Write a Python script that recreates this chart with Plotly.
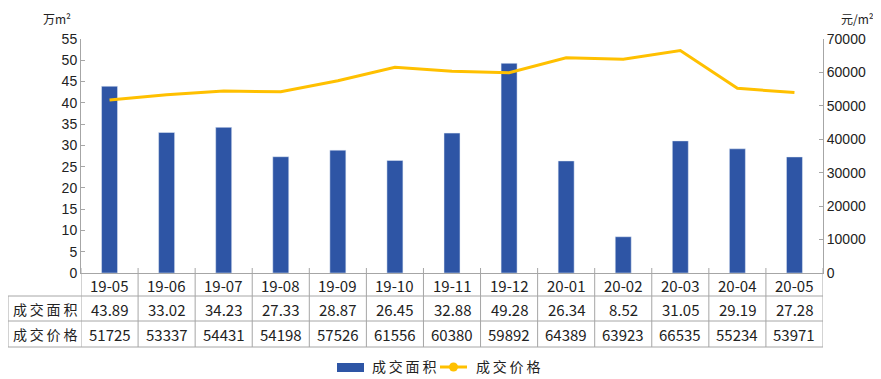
import plotly.graph_objects as go

months = ["19-05", "19-06", "19-07", "19-08", "19-09", "19-10", "19-11",
          "19-12", "20-01", "20-02", "20-03", "20-04", "20-05"]
area = [43.89, 33.02, 34.23, 27.33, 28.87, 26.45, 32.88, 49.28, 26.34, 8.52, 31.05, 29.19, 27.28]
price = [51725, 53337, 54431, 54198, 57526, 61556, 60380, 59892, 64389, 63923, 66535, 55234, 53971]
area_labels = ["43.89", "33.02", "34.23", "27.33", "28.87", "26.45", "32.88",
               "49.28", "26.34", "8.52", "31.05", "29.19", "27.28"]
row_names = ["成交面积", "成交价格"]

BAR = "#2E55A5"
LINE = "#FFC000"
GRID = "#A6A6A6"
CJK = "Noto Sans CJK SC"
LAT = "Liberation Sans, Arial"

# page has an 8px body margin; the figure is placed at (8, 8)
OFF = 8
W, H = 881 - OFF, 379 - OFF
# plot area in page pixels
PL, PR, PT, PB = 81, 823, 39, 273
ML, MR, MT, MB = PL - OFF, W - (PR - OFF), PT - OFF, H - (PB - OFF)
PW = PR - PL
PH = PB - PT

def px(x):
    return (x - PL) / PW

def py(y):
    return (PB - y) / PH

fig = go.Figure()
fig.add_trace(go.Bar(x=months, y=area, name=row_names[0], marker_color=BAR,
                     width=0.28, yaxis="y"))
fig.add_trace(go.Scatter(x=months, y=price, name=row_names[1], mode="lines",
                         line=dict(color=LINE, width=3), yaxis="y2"))

shapes = []
n = len(months)
for i in range(n + 1):
    shapes.append(dict(type="line", xref="x", yref="paper", x0=i - 0.5, x1=i - 0.5,
                       y0=py(268), y1=py(347), line=dict(color=GRID, width=1)))
shapes.append(dict(type="line", xref="paper", yref="paper", x0=px(8), x1=px(8),
                   y0=py(296), y1=py(347), line=dict(color=GRID, width=1)))
for yy in [296, 321, 347]:
    shapes.append(dict(type="line", xref="paper", yref="paper", x0=px(8), x1=1,
                       y0=py(yy), y1=py(yy), line=dict(color=GRID, width=1)))

# legend (drawn manually to match the wide bar swatch)
LY = 367
shapes.append(dict(type="rect", xref="paper", yref="paper", x0=px(337), x1=px(364),
                   y0=py(372), y1=py(363), line=dict(width=0), fillcolor=BAR))
shapes.append(dict(type="line", xref="paper", yref="paper", x0=px(440), x1=px(467),
                   y0=py(LY), y1=py(LY), line=dict(color=LINE, width=3)))
shapes.append(dict(type="circle", xref="paper", yref="paper", x0=px(449), x1=px(458),
                   y0=py(LY + 4.5), y1=py(LY - 4.5), line=dict(width=0), fillcolor=LINE))

annotations = []
rows_y = [285, 309, 334]
tf = dict(family=CJK, size=15, color="#222")
for i, m in enumerate(months):
    for r, txt in enumerate([m, area_labels[i], str(price[i])]):
        annotations.append(dict(x=m, y=py(rows_y[r]), xref="x", yref="paper", text=txt,
                                xanchor="center", yanchor="middle",
                                showarrow=False, font=tf))
for j, name in enumerate(row_names):
    annotations.append(dict(x=px(44.5), y=py(rows_y[j + 1]), xref="paper", yref="paper",
                            text="\u2009".join(name), showarrow=False,
                            xanchor="center", yanchor="middle",
                            font=dict(family=CJK, size=14, color="#222")))
for x0, name in [(370, row_names[0]), (474, row_names[1])]:
    annotations.append(dict(x=px(x0), y=py(LY - 1), xref="paper", yref="paper",
                            text="\u2009".join(name), showarrow=False,
                            xanchor="left", yanchor="middle",
                            font=dict(family=CJK, size=14, color="#222")))
annotations.append(dict(x=px(57), y=py(18), xref="paper", yref="paper", text="万m²",
                        xanchor="center", yanchor="middle",
                        showarrow=False, font=dict(family=CJK, size=12, color="#222")))
annotations.append(dict(x=px(876), y=py(18), xref="paper", yref="paper", text="元/m²",
                        xanchor="right", yanchor="middle",
                        showarrow=False, font=dict(family=CJK, size=12, color="#222")))

fig.update_layout(
    width=W, height=H,
    margin=dict(l=ML, r=MR, t=MT, b=MB, autoexpand=False),
    paper_bgcolor="white", plot_bgcolor="white",
    font=dict(family=LAT, size=14, color="#222"),
    showlegend=False,
    xaxis=dict(type="category", range=[-0.5, n - 0.5], showticklabels=False,
               showline=True, linecolor=GRID, linewidth=1, ticks="", showgrid=False,
               zeroline=False),
    yaxis=dict(range=[0, 55], tick0=0, dtick=5, showline=True, linecolor=GRID,
               ticks="inside", ticklen=4, tickcolor=GRID, showgrid=False, zeroline=False,
               tickfont=dict(family=LAT, size=14), automargin=False),
    yaxis2=dict(range=[0, 70000], tick0=0, dtick=10000, overlaying="y", side="right",
                showline=True, linecolor=GRID, ticks="inside", ticklen=4, tickcolor=GRID,
                showgrid=False, zeroline=False, tickformat="d",
                tickfont=dict(family=LAT, size=14), automargin=False),
    shapes=shapes,
    annotations=annotations,
)

fig.write_html("out.html")
